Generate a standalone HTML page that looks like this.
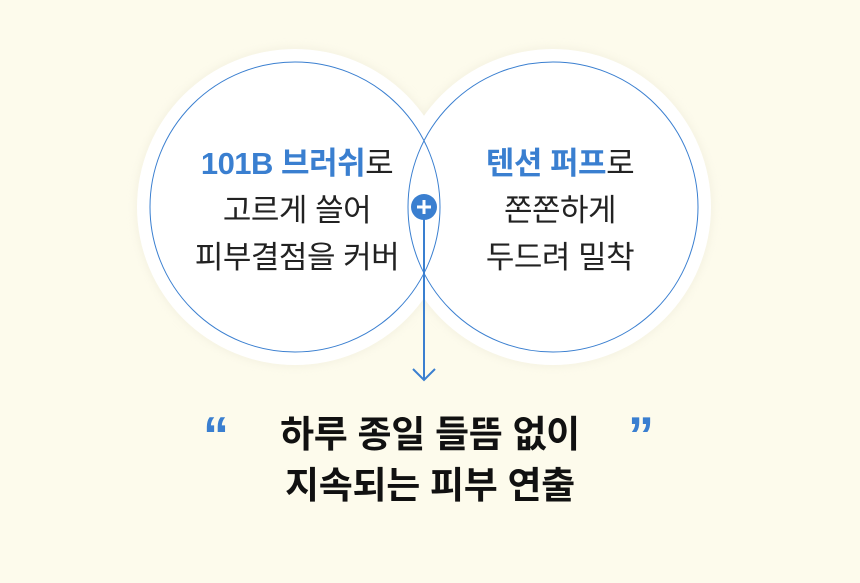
<!DOCTYPE html>
<html><head><meta charset="utf-8"><style>
body{margin:0;width:860px;height:583px;background:#fdfbec;overflow:hidden;position:relative;font-family:"Liberation Sans","Noto Sans CJK KR",sans-serif}
.t{position:absolute;text-align:center;font-size:31px;color:#222;line-height:47px;letter-spacing:-0.5px}
.b{color:#3a7fd0;font-weight:bold}
.q{position:absolute;text-align:center;font-size:37px;font-weight:bold;color:#111;line-height:51px;width:860px;left:0;top:409px;letter-spacing:-0.3px}
.qm{position:absolute;color:#3a7fd0;font-size:52px;font-weight:bold;font-family:"Liberation Sans",sans-serif;line-height:52px}
</style></head><body>
<svg width="860" height="583" style="position:absolute;left:0;top:0">
<defs><filter id="s" x="-20%" y="-20%" width="140%" height="140%"><feGaussianBlur stdDeviation="4"/></filter></defs>
<circle cx="295" cy="207" r="160" fill="#ece9d8" filter="url(#s)" opacity="0.5"/>
<circle cx="553" cy="207" r="160" fill="#ece9d8" filter="url(#s)" opacity="0.5"/>
<circle cx="295" cy="207" r="158" fill="#fff"/>
<circle cx="553" cy="207" r="158" fill="#fff"/>
<circle cx="295" cy="207" r="145" fill="none" stroke="#3a7fd0" stroke-width="1"/>
<circle cx="553" cy="207" r="145" fill="none" stroke="#3a7fd0" stroke-width="1"/>
<line x1="424" y1="207" x2="424" y2="380" stroke="#3a7fd0" stroke-width="2"/>
<polyline points="413,369 424,380 435,369" fill="none" stroke="#3a7fd0" stroke-width="2"/>
<circle cx="424" cy="207" r="13" fill="#3a7fd0"/>
<line x1="417" y1="207" x2="431" y2="207" stroke="#fff" stroke-width="3"/>
<line x1="424" y1="200" x2="424" y2="214" stroke="#fff" stroke-width="3"/>
</svg>
<div class="t" style="left:147px;width:300px;top:140px"><span class="b">101B 브러쉬</span>로<br>고르게 쓸어<br>피부결점을 커버</div>
<div class="t" style="left:410px;width:300px;top:140px"><span class="b">텐션 퍼프</span>로<br>쫀쫀하게<br>두드려 밀착</div>
<div class="qm" style="left:203px;top:410px">“</div>
<div class="qm" style="left:628px;top:410px">”</div>
<div class="q">하루 종일 들뜸 없이<br>지속되는 피부 연출</div>
</body></html>
